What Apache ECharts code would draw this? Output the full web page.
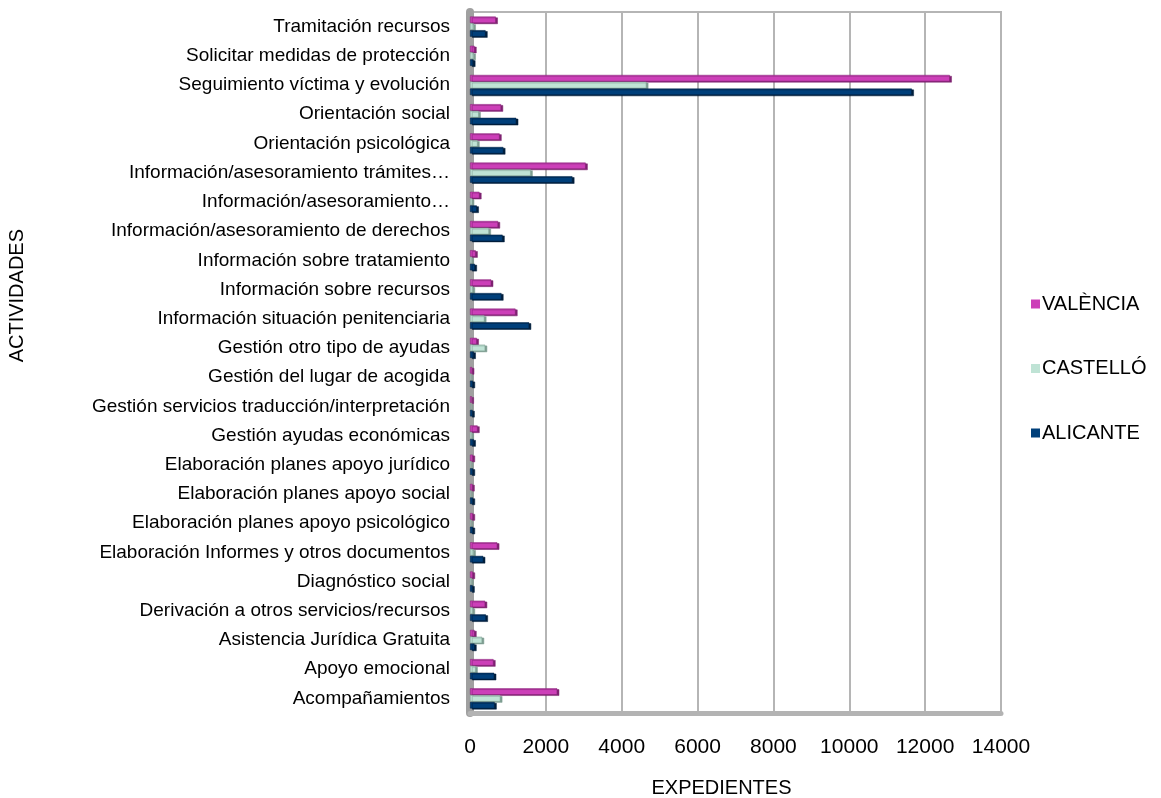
<!DOCTYPE html>
<html>
<head>
<meta charset="utf-8">
<script src="https://cdn.jsdelivr.net/npm/echarts@6/dist/echarts.min.js"></script>
<style>html,body{margin:0;padding:0;background:#fff}#c{width:1161px;height:798px}</style>
</head>
<body>
<div id="c"></div>
<script>
const categories = [
  'Acompañamientos',
  'Apoyo emocional',
  'Asistencia Jurídica Gratuita',
  'Derivación a otros servicios/recursos',
  'Diagnóstico social',
  'Elaboración Informes y otros documentos',
  'Elaboración planes apoyo psicológico',
  'Elaboración planes apoyo social',
  'Elaboración planes apoyo jurídico',
  'Gestión ayudas económicas',
  'Gestión servicios traducción/interpretación',
  'Gestión del lugar de acogida',
  'Gestión otro tipo de ayudas',
  'Información situación penitenciaria',
  'Información sobre recursos',
  'Información sobre tratamiento',
  'Información/asesoramiento de derechos',
  'Información/asesoramiento…',
  'Información/asesoramiento trámites…',
  'Orientación psicológica',
  'Orientación social',
  'Seguimiento víctima y evolución',
  'Solicitar medidas de protección',
  'Tramitación recursos'
];
const valencia = [2300, 620, 120, 400, 80, 720, 80, 70, 80, 200, 50, 60, 180, 1200, 560, 150, 740, 250, 3050, 780, 820, 12650, 120, 680];
const castello = [800, 150, 320, 80, 40, 100, 30, 30, 30, 50, 20, 30, 400, 380, 80, 50, 500, 60, 1600, 200, 230, 4650, 100, 100];
const alicante = [650, 640, 120, 420, 70, 350, 80, 80, 80, 100, 70, 80, 100, 1560, 830, 130, 860, 180, 2700, 880, 1220, 11650, 90, 410];
const xTicks = { min: 0, max: 14000, interval: 2000 };

const font = 'Liberation Sans, Arial, sans-serif';
const chart = echarts.init(document.getElementById('c'));
const barStyle = (c, dark) => ({ color: c, borderColor: dark, borderWidth: 0.5,
  shadowColor: dark, shadowBlur: 0, shadowOffsetX: 2, shadowOffsetY: 1 });
chart.setOption({
  backgroundColor: '#fff',
  animation: false,
  textStyle: { fontFamily: font },
  grid: { left: 470, right: 160, top: 12, bottom: 85, outerBoundsMode: 'none', containLabel: false,
    show: true, borderColor: '#b5b5b5', borderWidth: 2, backgroundColor: 'transparent' },
  legend: {
    orient: 'vertical', left: 1026, top: 289,
    itemWidth: 9, itemHeight: 9, itemGap: 44.5, icon: 'rect',
    itemStyle: { borderWidth: 0, shadowBlur: 0, shadowOffsetX: 0, shadowOffsetY: 0, shadowColor: 'transparent' },
    textStyle: { fontSize: 20, color: '#000', fontFamily: font, padding: [0, 0, 0, -3] },
    data: ['VALÈNCIA', 'CASTELLÓ', 'ALICANTE']
  },
  xAxis: {
    type: 'value', min: xTicks.min, max: xTicks.max, interval: xTicks.interval,
    name: 'EXPEDIENTES', nameLocation: 'middle', nameGap: 65,
    nameTextStyle: { fontSize: 20, color: '#000', fontFamily: font, padding: [0, 28, 0, 0] },
    axisLine: { show: true, lineStyle: { color: '#b3b3b3', width: 5 } },
    axisTick: { show: false },
    axisLabel: { fontSize: 21, color: '#000', margin: 24, fontFamily: font, formatter: v => String(v) },
    splitLine: { show: true, lineStyle: { color: '#b5b5b5', width: 2 } }
  },
  yAxis: {
    type: 'category', data: categories,
    axisLine: { show: true, lineStyle: { color: '#a0a0a0', width: 8 } },
    axisTick: { show: false },
    axisLabel: { fontSize: 19, color: '#000', margin: 20, fontFamily: font, interval: 0 },
    splitLine: { show: false }
  },
  graphic: [{
    type: 'text', left: 7, top: 229, rotation: Math.PI / 2,
    style: { text: 'ACTIVIDADES', fontSize: 20, fill: '#000', fontFamily: font }
  }],
  series: [
    { name: 'VALÈNCIA', type: 'bar', data: valencia, barWidth: 6.5, barGap: '5%',
      itemStyle: barStyle('#cc3fb8', '#7e2271') },
    { name: 'CASTELLÓ', type: 'bar', data: castello, barWidth: 6.5, barGap: '5%',
      itemStyle: barStyle('#bfe3d5', '#7f9e92') },
    { name: 'ALICANTE', type: 'bar', data: alicante, barWidth: 6.5, barGap: '5%',
      itemStyle: barStyle('#003f7a', '#001f3d') }
  ]
});
</script>
</body>
</html>
